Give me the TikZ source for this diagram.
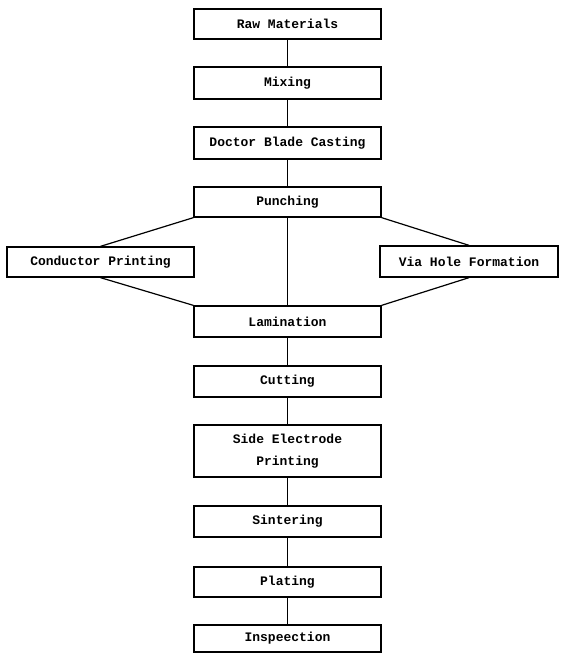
\documentclass[tikz,border=0pt]{standalone}
\usepackage{fontspec}
\newfontfamily\tw{Liberation Mono}
\begin{document}
\begin{tikzpicture}[x=1pt,y=-1pt,
  procbox/.style={draw=black,line width=1.3pt,rectangle,inner sep=0pt,
    minimum width=187pt,font=\tw\bfseries\fontsize{13}{22}\selectfont,align=center},
  link/.style={draw=black,line width=1.2pt}]
\useasboundingbox (0,0) rectangle (563,654);
\node[procbox,minimum height=30pt] (raw) at (287.5,24) {Raw Materials};
\node[procbox,minimum height=32pt] (mix) at (287.5,83) {Mixing};
\node[procbox,minimum height=32pt] (doc) at (287.5,143) {Doctor Blade Casting};
\node[procbox,minimum height=30pt] (pun) at (287.5,202) {Punching};
\node[procbox,minimum height=30pt] (con) at (100.5,262) {Conductor Printing};
\node[procbox,minimum height=31pt,minimum width=178pt] (via) at (469,261.5) {Via Hole Formation};
\node[procbox,minimum height=31pt] (lam) at (287.5,321.5) {Lamination};
\node[procbox,minimum height=31pt] (cut) at (287.5,381.5) {Cutting};
\node[procbox,minimum height=52pt] (side) at (287.5,451) {Side Electrode\\Printing};
\node[procbox,minimum height=31pt] (sin) at (287.5,521.5) {Sintering};
\node[procbox,minimum height=30pt] (pla) at (287.5,582) {Plating};
\node[procbox,minimum height=27pt] (ins) at (287.5,638.5) {Inspeection};
\draw[link] (raw.south) -- (mix.north);
\draw[link] (mix.south) -- (doc.north);
\draw[link] (doc.south) -- (pun.north);
\draw[link] (pun.south) -- (lam.north);
\draw[link] (pun.south west) -- (con.north);
\draw[link] (con.south) -- (lam.north west);
\draw[link] (pun.south east) -- (via.north);
\draw[link] (via.south) -- (lam.north east);
\draw[link] (lam.south) -- (cut.north);
\draw[link] (cut.south) -- (side.north);
\draw[link] (side.south) -- (sin.north);
\draw[link] (sin.south) -- (pla.north);
\draw[link] (pla.south) -- (ins.north);
\end{tikzpicture}
\end{document}
